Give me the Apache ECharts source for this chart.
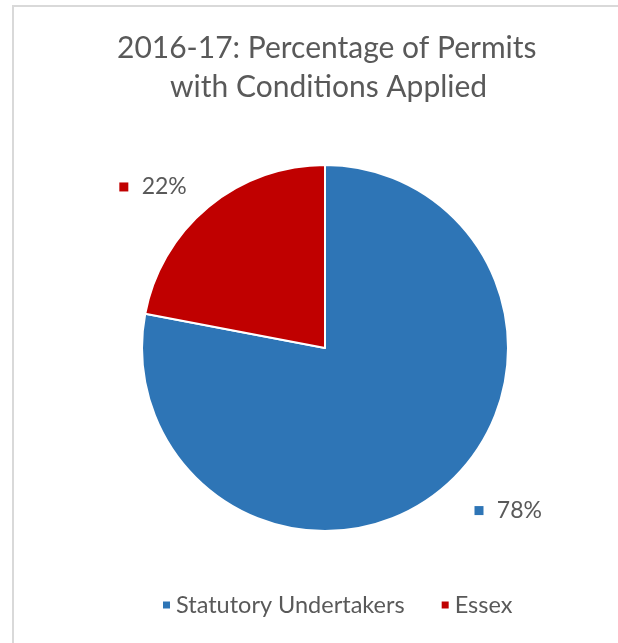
<!DOCTYPE html>
<html>
<head>
<meta charset="utf-8">
<script src="https://cdn.jsdelivr.net/npm/echarts@6/dist/echarts.min.js"></script>
<style>
  html, body { margin: 0; padding: 0; background: #fff; }
  .frame { position: absolute; left: 12px; top: 5px; width: 606px; height: 638px;
           border-top: 2px solid #d9d9d9; border-left: 2px solid #d9d9d9; }
  #chart { position: absolute; left: 0; top: 0; width: 618px; height: 643px; }
</style>
</head>
<body>
<div class="frame"></div>
<div id="chart"></div>
<script>
const titleLines = ['2016-17: Percentage of Permits', 'with Conditions Applied']
const categories = ['Statutory Undertakers', 'Essex']
const values = [78, 22]
const colors = ['#2e75b6', '#c00000']
const labelLens = [28, 26]
const labelLens2 = [10, 0]

const font = 'Lato, "Noto Sans", sans-serif'
const chart = echarts.init(document.getElementById('chart'))

chart.setOption({
  animation: false,
  title: titleLines.map((text, i) => ({
    text,
    left: i === 0 ? 112 : 165,
    top: 24 + i * 39,
    textStyle: { color: '#595959', fontFamily: font, fontWeight: 'normal', fontSize: 30, lineHeight: 39 }
  })),
  legend: {
    data: categories,
    bottom: 21,
    left: 156,
    icon: 'rect',
    itemWidth: 9,
    itemHeight: 9,
    itemGap: 35,
    textStyle: { color: '#595959', fontFamily: font, fontSize: 23.5 }
  },
  series: [{
    type: 'pie',
    center: [325, 348],
    radius: 183,
    startAngle: 90,
    clockwise: true,
    itemStyle: { borderColor: '#fff', borderWidth: 2 },
    data: categories.map((name, i) => ({
      name,
      value: values[i],
      itemStyle: { color: colors[i] },
      labelLine: { show: false, length: labelLens[i], length2: labelLens2[i] },
      label: {
        show: true,
        position: 'outside',
        formatter: '{s|}    {t|{d}%}',
        rich: {
          s: { width: 9, height: 9, backgroundColor: colors[i] },
          t: { color: '#595959', fontFamily: font, fontSize: 23 }
        }
      }
    }))
  }]
})
</script>
</body>
</html>
